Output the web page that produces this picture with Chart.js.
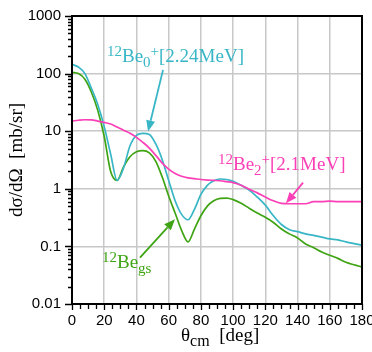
<!DOCTYPE html>
<html>
<head>
<meta charset="utf-8">
<script src="https://cdn.jsdelivr.net/npm/chart.js@4.4.1/dist/chart.umd.min.js"></script>
<style>
  html, body { margin: 0; padding: 0; background: #fff; }
</style>
</head>
<body>
<canvas id="chart" width="372" height="352"></canvas>
<script>
// theta_cm [deg]
const angles = [0, 4, 8, 12, 16, 20, 24, 28, 32, 36, 40, 44, 48, 52, 56, 60, 64, 68, 72, 76, 80, 84, 88, 92, 96, 100,
  105, 110, 115, 120, 125, 130, 135, 140, 145, 150, 155, 160, 165, 170, 175, 180];

// dsigma/dOmega [mb/sr]
const be0Values = [145, 130, 100, 56, 29, 12, 4.0, 1.4, 2.3, 5.6, 8.5, 9.2, 8.8, 6.0, 3.2, 1.4, 0.62, 0.36, 0.29, 0.44, 0.80, 1.15, 1.38, 1.48, 1.45, 1.35,
  1.15, 0.95, 0.72, 0.52, 0.34, 0.24, 0.195, 0.18, 0.165, 0.155, 0.145, 0.135, 0.13, 0.12, 0.112, 0.105];
const be2Values = [15, 15.5, 15.8, 15.7, 15, 14.2, 13.3, 11.8, 10.4, 9.2, 7.8, 6.4, 5.1, 3.8, 2.8, 2.2, 1.85, 1.65, 1.55, 1.5, 1.45, 1.42, 1.4, 1.38, 1.33, 1.28,
  1.15, 0.98, 0.85, 0.72, 0.62, 0.56, 0.55, 0.55, 0.55, 0.6, 0.6, 0.61, 0.6, 0.6, 0.6, 0.6];
const begsValues = [105, 100, 80, 48, 23, 8.1, 2.0, 1.4, 2.4, 3.6, 4.4, 4.6, 4.2, 3.0, 1.6, 0.75, 0.38, 0.19, 0.12, 0.2, 0.34, 0.5, 0.62, 0.68, 0.69, 0.65,
  0.56, 0.46, 0.38, 0.32, 0.26, 0.2, 0.165, 0.14, 0.11, 0.095, 0.08, 0.07, 0.062, 0.053, 0.048, 0.044];

const xTicks = [0, 20, 40, 60, 80, 100, 120, 140, 160, 180];
const yTicks = [0.01, 0.1, 1, 10, 100, 1000];
const yLabels = ['0.01', '0.1', '1', '10', '100', '1000'];

const cyan = '#38b6c6';
const magenta = '#fb3fb6';
const green = '#3fa414';

const serif = '"Liberation Serif", "Times New Roman", serif';

// labels: anchor (left/baseline) and arrow tail -> tip in data coordinates
const labels = [
  { color: cyan, at: [21.7, 160], arrow: [[56.5, 116], [47.2, 9.9]],
    parts: [['12', 'sup'], ['Be', ''], ['0', 'sub'], ['+', 'sup'], ['[2.24MeV]', '']] },
  { color: magenta, at: [90.6, 2.14], arrow: [[143.4, 1.28], [132.8, 0.56]],
    parts: [['12', 'sup'], ['Be', ''], ['2', 'sub'], ['+', 'sup'], ['[2.1MeV]', '']] },
  { color: green, at: [18.6, 0.043], arrow: [[42.2, 0.064], [63.9, 0.297]],
    parts: [['12', 'sup'], ['Be', ''], ['gs', 'sub']] },
];

function points(values) {
  return angles.map((a, i) => ({ x: a, y: values[i] }));
}

function drawRich(ctx, parts, x, y, size, small) {
  ctx.textBaseline = 'alphabetic';
  ctx.textAlign = 'left';
  for (const [text, kind] of parts) {
    ctx.font = `${kind ? small : size}px ${serif}`;
    const dy = kind === 'sup' ? -6 : kind === 'sub' ? 5 : 0;
    ctx.fillText(text, x, y + dy);
    x += ctx.measureText(text).width;
  }
}

function drawArrow(ctx, x0, y0, x1, y1) {
  const ang = Math.atan2(y1 - y0, x1 - x0);
  const head = 11, half = 4.5;
  const bx = x1 - head * Math.cos(ang), by = y1 - head * Math.sin(ang);
  ctx.beginPath();
  ctx.moveTo(x0, y0);
  ctx.lineTo(bx, by);
  ctx.stroke();
  ctx.beginPath();
  ctx.moveTo(x1, y1);
  ctx.lineTo(bx + half * Math.sin(ang), by - half * Math.cos(ang));
  ctx.lineTo(bx - half * Math.sin(ang), by + half * Math.cos(ang));
  ctx.closePath();
  ctx.fill();
}

const overlay = {
  id: 'overlay',
  afterDraw(chart) {
    const { ctx, chartArea: a, scales: { x, y } } = chart;
    ctx.save();

    // tick marks, outward
    ctx.strokeStyle = '#000';
    ctx.lineWidth = 1.3;
    ctx.beginPath();
    for (let v = 0; v <= 180; v += 5) {
      const px = Math.round(x.getPixelForValue(v)) + 0.5;
      ctx.moveTo(px, a.bottom);
      ctx.lineTo(px, a.bottom + (v % 20 === 0 ? 6 : 5));
    }
    for (const d of yTicks) {
      const steps = d === 1000 ? 1 : 9;
      for (let m = 1; m <= steps; m++) {
        const py = Math.round(y.getPixelForValue(d * m)) + 0.5;
        ctx.moveTo(a.left, py);
        ctx.lineTo(a.left - (m === 1 ? 7 : 4), py);
      }
    }
    ctx.stroke();

    // frame
    ctx.lineWidth = 2;
    ctx.strokeRect(a.left, a.top, a.right - a.left, a.bottom - a.top);

    // axis titles
    ctx.fillStyle = '#000';
    ctx.save();
    ctx.translate(17, (a.top + a.bottom) / 2);
    ctx.rotate(-Math.PI / 2);
    ctx.font = `19px ${serif}`;
    ctx.textAlign = 'center';
    ctx.textBaseline = 'middle';
    ctx.fillText('dσ/dΩ  [mb/sr]', 0, 0);
    ctx.restore();
    drawRich(ctx, [['θ', ''], ['cm', 'sub'], ['  [deg]', '']], 181, 341, 19, 16);

    // state labels with arrows
    for (const lab of labels) {
      ctx.fillStyle = lab.color;
      ctx.strokeStyle = lab.color;
      ctx.lineWidth = 1.8;
      drawRich(ctx, lab.parts, x.getPixelForValue(lab.at[0]), y.getPixelForValue(lab.at[1]), 19, 15);
      const [[tx, ty], [hx, hy]] = lab.arrow;
      drawArrow(ctx, x.getPixelForValue(tx), y.getPixelForValue(ty), x.getPixelForValue(hx), y.getPixelForValue(hy));
    }
    ctx.restore();
  }
};

const tickFont = { family: '"Liberation Sans", Arial, sans-serif', size: 15 };

new Chart(document.getElementById('chart'), {
  type: 'line',
  data: {
    datasets: [
      { label: '12Be 2+ [2.1MeV]', data: points(be2Values), borderColor: magenta },
      { label: '12Be 0+ [2.24MeV]', data: points(be0Values), borderColor: cyan },
      { label: '12Be gs', data: points(begsValues), borderColor: green },
    ],
  },
  options: {
    responsive: false,
    animation: false,
    devicePixelRatio: 1,
    layout: { padding: { top: 16, right: 10, left: 0, bottom: 0 } },
    elements: {
      point: { radius: 0 },
      line: { borderWidth: 1.7, cubicInterpolationMode: 'monotone', fill: false },
    },
    plugins: { legend: { display: false }, tooltip: { enabled: false } },
    scales: {
      x: {
        type: 'linear',
        min: 0,
        max: 180,
        afterBuildTicks: (scale) => { scale.ticks = xTicks.map((v) => ({ value: v })); },
        afterFit: (scale) => { scale.height = 48; scale.paddingLeft = 0; scale.paddingRight = 0; },
        ticks: { color: '#000', font: tickFont, padding: 8, maxRotation: 0, callback: (v) => String(v) },
        grid: { color: '#c8c8c8', lineWidth: 1.5, drawTicks: false },
        border: { display: false },
      },
      y: {
        type: 'logarithmic',
        min: 0.01,
        max: 1000,
        afterBuildTicks: (scale) => { scale.ticks = yTicks.map((v) => ({ value: v })); },
        afterFit: (scale) => { scale.width = 72; scale.paddingTop = 0; scale.paddingBottom = 0; },
        ticks: { color: '#000', font: tickFont, padding: 11, callback: (v) => yLabels[yTicks.indexOf(v)] },
        grid: { color: '#c8c8c8', lineWidth: 1.5, drawTicks: false },
        border: { display: false },
      },
    },
  },
  plugins: [overlay],
});
</script>
</body>
</html>
